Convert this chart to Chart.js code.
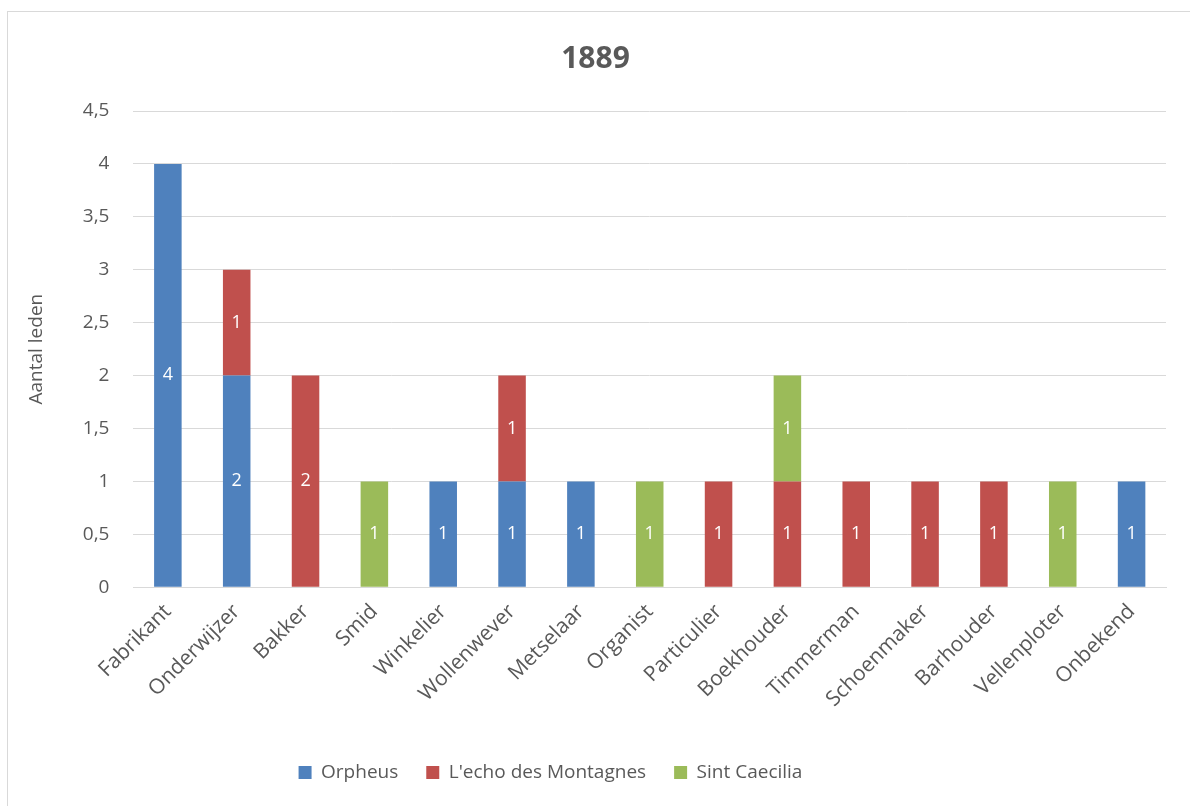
<!DOCTYPE html>
<html>
<head>
<meta charset="utf-8">
<script src="https://cdn.jsdelivr.net/npm/chart.js@4/dist/chart.umd.min.js"></script>
<style>
  html, body { margin: 0; padding: 0; background: #fff; }
  #wrap { width: 1190px; height: 806px; position: relative; }
</style>
</head>
<body>
<div id="wrap"><canvas id="myChart" width="1190" height="806"></canvas></div>
<script>
// categorieën en waarden (aantal leden per beroep)
var beroepen = ['Fabrikant', 'Onderwijzer', 'Bakker', 'Smid', 'Winkelier', 'Wollenwever', 'Metselaar',
  'Organist', 'Particulier', 'Boekhouder', 'Timmerman', 'Schoenmaker', 'Barhouder', 'Vellenploter', 'Onbekend'];
var orpheus = [4, 2, null, null, 1, 1, 1, null, null, null, null, null, null, null, 1];
var lecho   = [null, 1, 2, null, null, 1, null, null, 1, 1, 1, 1, 1, null, null];
var caecilia = [null, null, null, 1, null, null, null, 1, null, 1, null, null, null, 1, null];
var yTicks = [0, 0.5, 1, 1.5, 2, 2.5, 3, 3.5, 4, 4.5];

var fontFam = "'Open Sans', 'Noto Sans', sans-serif";

// rand om de grafiek
var borderPlugin = {
  id: 'rand',
  beforeDraw: function(chart) {
    var c = chart.ctx;
    c.save();
    c.fillStyle = '#fff';
    c.fillRect(0, 0, chart.width, chart.height);
    c.strokeStyle = '#d9d9d9';
    c.lineWidth = 1;
    c.strokeRect(7.5, 11.5, 1300, 1000);
    c.restore();
  }
};

// legenda iets naar links (zoals in het origineel)
var legendShift = {
  id: 'legendShift',
  afterLayout: function(chart) {
    chart.legend.left -= 45;
    chart.legend.right -= 45;
  }
};

// waarden in het midden van elk segment
var labelPlugin = {
  id: 'waarden',
  afterDatasetsDraw: function(chart) {
    var c = chart.ctx;
    c.save();
    c.fillStyle = '#fff';
    c.font = '18px ' + fontFam;
    c.textAlign = 'center';
    c.textBaseline = 'middle';
    chart.data.datasets.forEach(function(ds, i) {
      var meta = chart.getDatasetMeta(i);
      meta.data.forEach(function(el, j) {
        var v = ds.data[j];
        if (v == null) return;
        c.fillText(String(v), el.x, (el.y + el.base) / 2);
      });
    });
    c.restore();
  }
};

var ctx = document.getElementById('myChart').getContext('2d');
var myChart = new Chart(ctx, {
  type: 'bar',
  data: {
    labels: beroepen,
    datasets: [
      { label: 'Orpheus', data: orpheus, backgroundColor: '#4f81bd' },
      { label: "L'echo des Montagnes", data: lecho, backgroundColor: '#c0504d' },
      { label: 'Sint Caecilia', data: caecilia, backgroundColor: '#9bbb59' }
    ]
  },
  options: {
    responsive: false,
    animation: false,
    layout: { padding: { left: 25, right: 24, top: 28, bottom: 14 } },
    datasets: { bar: { categoryPercentage: 1, barPercentage: 0.4 } },
    plugins: {
      title: {
        display: true,
        text: '1889',
        color: '#595959',
        font: { family: fontFam, size: 30, weight: 'bold' },
        padding: { top: 13, bottom: 34 }
      },
      legend: {
        position: 'bottom',
        labels: {
          color: '#595959',
          font: { family: fontFam, size: 19 },
          boxWidth: 13,
          boxHeight: 13,
          padding: 28
        }
      },
      tooltip: { enabled: false }
    },
    scales: {
      x: {
        stacked: true,
        grid: { display: false },
        border: { color: '#d9d9d9' },
        afterFit: function(scale) { scale.height += 19; },
        ticks: {
          color: '#595959',
          font: { family: fontFam, size: 21 },
          maxRotation: 45,
          minRotation: 45,
          padding: 4
        }
      },
      y: {
        stacked: true,
        min: 0,
        max: 4.5,
        afterBuildTicks: function(axis) {
          axis.ticks = yTicks.map(function(v) { return { value: v }; });
        },
        grid: { color: '#d9d9d9', drawTicks: false },
        border: { display: false },
        ticks: {
          color: '#595959',
          font: { family: fontFam, size: 19 },
          padding: 24,
          callback: function(v) { return String(v).replace('.', ','); }
        },
        title: {
          display: true,
          text: 'Aantal leden',
          color: '#595959',
          font: { family: fontFam, size: 19 },
          padding: { top: 0, bottom: 11 }
        }
      }
    }
  },
  plugins: [borderPlugin, legendShift, labelPlugin]
});
</script>
</body>
</html>
